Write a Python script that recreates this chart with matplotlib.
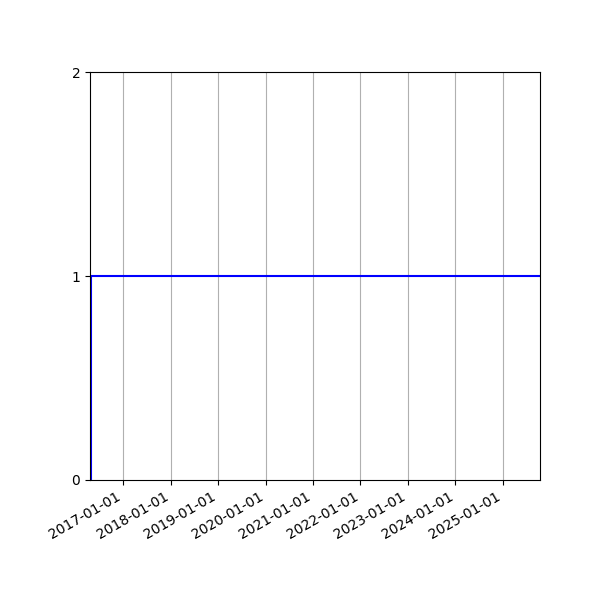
import numpy as np
import matplotlib
matplotlib.use('Agg')
import matplotlib.pyplot as plt
import matplotlib.dates as mdates

dates = np.array(['2016-04-20', '2016-05-01', '2025-10-14'], dtype='datetime64[D]')
values = [0, 1, 1]

fig, ax = plt.subplots(figsize=(6, 6), dpi=100)
fig.subplots_adjust(left=0.15, right=0.9, top=0.88)

ax.plot(dates, values, color='blue', drawstyle='steps-post')

ax.set_xlim(dates[0], dates[-1])
ax.set_ylim(0, 2)
ax.set_yticks([0, 1, 2])
ax.xaxis.set_major_locator(mdates.YearLocator())
ax.xaxis.set_major_formatter(mdates.DateFormatter('%Y-%m-%d'))
ax.grid(True, axis='x')
fig.autofmt_xdate()

plt.savefig('out.png')
